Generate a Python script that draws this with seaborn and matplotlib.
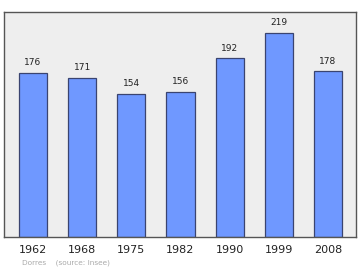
import matplotlib
matplotlib.use("Agg")
import matplotlib.pyplot as plt
import seaborn as sns
import pandas as pd

years = ["1962", "1968", "1975", "1982", "1990", "1999", "2008"]
population = [176, 171, 154, 156, 192, 219, 178]

sns.set_style("white")
plt.rcParams['font.family'] = ['DejaVu Sans']

df = pd.DataFrame({"year": years, "pop": population})

fig = plt.figure(figsize=(3.6, 2.7), dpi=100)
ax = fig.add_axes([4/360, 1 - 237/270, 352/360, 225/270])
ax.set_facecolor("#eeeeee")
sns.barplot(data=df, x="year", y="pop", ax=ax, color="#6f98ff", saturation=1,
            width=0.57, edgecolor="#3a4470", linewidth=0.9)
for i, v in enumerate(population):
    ax.text(i, v + 6, str(v), ha="center", va="bottom", fontsize=6.5, color="#222222")
ax.set_xlim(-0.59, 6.57)
ax.set_ylim(0, 241.5)
ax.set_yticks([])
ax.set_xlabel("")
ax.set_ylabel("")
ax.tick_params(axis="x", length=0, labelsize=8, pad=6, colors="#222222")
for s in ax.spines.values():
    s.set_color("#555555")
    s.set_linewidth(1)
fig.text(22/360, 1 - 263/270, "Dorres    (source: Insee)", fontsize=5.3, color="#aaaaaa", va="center")
fig.savefig("out.png", dpi=100)
